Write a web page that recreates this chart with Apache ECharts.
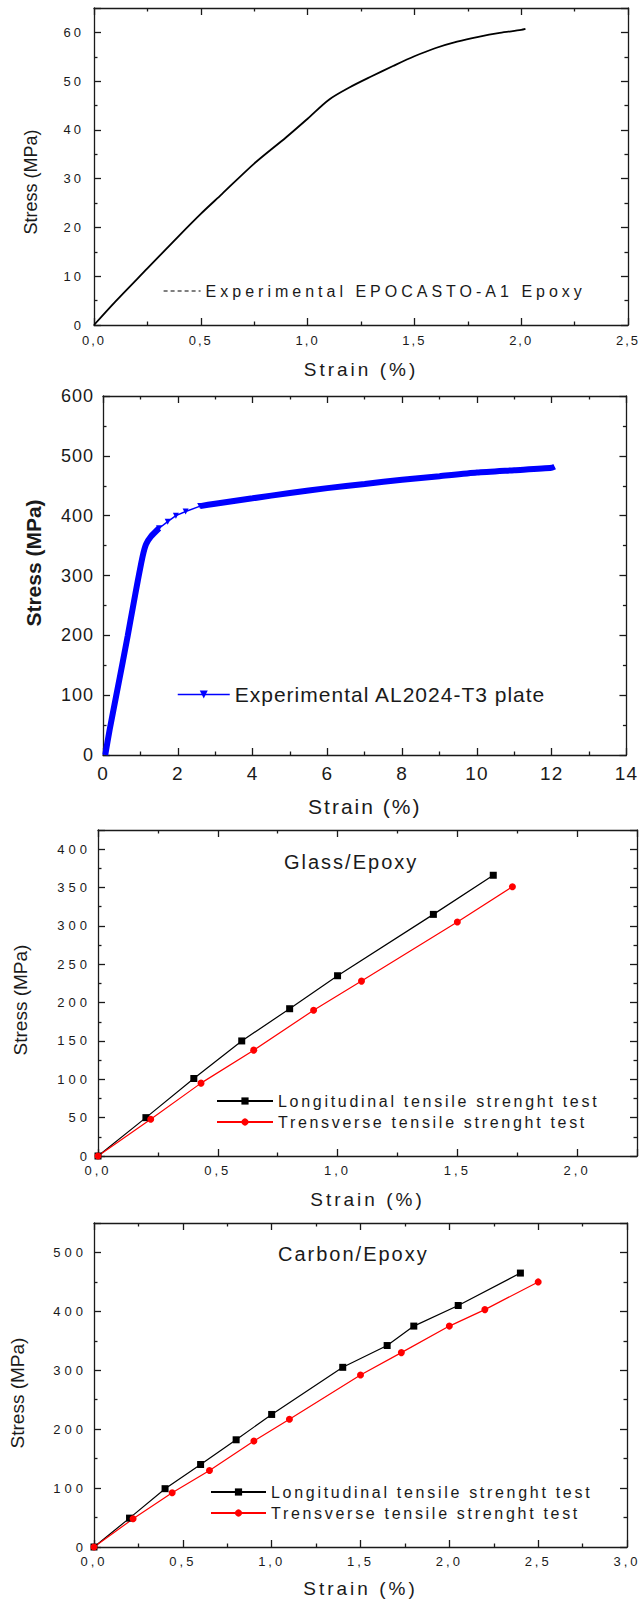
<!DOCTYPE html>
<html>
<head>
<meta charset="utf-8">
<title>Stress-strain curves</title>
<script src="https://cdn.jsdelivr.net/npm/echarts@6/dist/echarts.min.js"></script>
<style>
  html, body { margin: 0; padding: 0; background: #fff; }
  #chart { width: 640px; height: 1601px; }
  /* the plots use spaced-out lettering; the spacing is tagged through a dummy font name */
  #chart text[style*="sp1px"] { letter-spacing: 1px; }
  #chart text[style*="sp2px"] { letter-spacing: 2px; }
  #chart text[style*="sp27"] { letter-spacing: 2.7px; }
  #chart text[style*="sp3px"] { letter-spacing: 3px; }
  #chart text[style*="sp4px"] { letter-spacing: 4px; }
</style>
</head>
<body>
<div id="chart"></div>
<script>
// panel 1 - epoxy
const epoxyStrain = [0, 0.1, 0.25, 0.4, 0.5, 0.6, 0.75, 0.9, 1.0, 1.1, 1.2, 1.3, 1.4, 1.5, 1.6, 1.7, 1.8, 1.9, 2.0, 2.02];
const epoxyStress = [0, 4.8, 11.6, 18.4, 22.8, 26.9, 33.1, 38.5, 42.3, 46.2, 48.8, 51.0, 53.1, 55.1, 56.8, 58.1, 59.1, 59.9, 60.5, 60.7];

// panel 2 - AL2024-T3
const alStrain = [0.06, 0.18, 0.35, 0.53, 0.66, 0.80, 0.93, 1.06, 1.15, 1.28, 1.50, 1.73, 1.95, 2.21, 2.60, 3.0, 4.0, 5.0, 6.0, 7.0, 8.0, 9.0, 10.0, 11.0, 12.0, 12.08];
const alStress = [0, 43, 98, 156, 199, 247, 291, 332, 352, 365, 379, 390, 400, 407, 416, 420, 429, 438, 446, 453, 460, 466, 472, 476, 480, 482];

// panel 3 - glass/epoxy
const glassLongStrain = [0, 0.2, 0.4, 0.6, 0.8, 1.0, 1.4, 1.65];
const glassLongStress = [0, 50, 101, 150, 192, 235, 315, 366];
const glassTransStrain = [0, 0.22, 0.43, 0.65, 0.9, 1.1, 1.5, 1.73];
const glassTransStress = [0, 48, 95, 138, 190, 228, 305, 351];

// panel 4 - carbon/epoxy
const carbonLongStrain = [0, 0.2, 0.4, 0.6, 0.8, 1.0, 1.4, 1.65, 1.8, 2.05, 2.4];
const carbonLongStress = [0, 49, 99, 140, 182, 225, 305, 342, 375, 410, 465];
const carbonTransStrain = [0, 0.22, 0.44, 0.65, 0.9, 1.1, 1.5, 1.73, 2.0, 2.2, 2.5];
const carbonTransStress = [0, 48, 92, 130, 180, 217, 292, 330, 375, 403, 450];

const longName = 'Longitudinal tensile strenght test';
const transName = 'Trensverse tensile strenght test';
const epoxyName = 'Experimental EPOCASTO-A1 Epoxy';
const alName = 'Experimental AL2024-T3 plate';

const ink = '#1a1a1a';
const ff = sp => sp ? 'Liberation Sans, ' + sp : 'Liberation Sans';
const comma = v => v.toFixed(1).replace('.', ',');
const pairs = (xs, ys) => xs.map((x, i) => [x, ys[i]]);

function mkAxis(grid, pos, min, max, interval, label, name) {
  const ax = {
    type: 'value', gridIndex: grid, position: pos, min: min, max: max, interval: interval,
    splitLine: { show: false },
    axisLine: { onZero: false, lineStyle: { color: ink, width: 1.3 } },
    axisTick: { inside: true, length: 7, lineStyle: { color: ink, width: 1.3 } },
    minorTick: { show: true, splitNumber: 2, length: 3.5, lineStyle: { color: ink, width: 1.3 } },
    axisLabel: { show: false }
  };
  if (label) ax.axisLabel = Object.assign({ show: true, color: ink }, label);
  if (name) Object.assign(ax, name);
  return ax;
}

function xName(gap, size, sp) {
  return { name: 'Strain (%)', nameLocation: 'middle', nameGap: gap,
    nameTextStyle: { color: ink, fontSize: size, fontFamily: ff(sp) } };
}
function yName(gap, size, pad, bold) {
  return { name: 'Stress (MPa)', nameLocation: 'middle', nameGap: gap,
    nameTextStyle: { color: ink, fontSize: size, fontFamily: ff(), fontWeight: bold ? 'bold' : 'normal', padding: pad } };
}

const xAxes = [
  mkAxis(0, 'bottom', 0, 2.5, 0.5, { fontSize: 13, fontFamily: ff('sp2px'), margin: 9, formatter: comma }, xName(35, 19, 'sp3px')),
  mkAxis(0, 'top', 0, 2.5, 0.5),
  mkAxis(1, 'bottom', 0, 14, 2, { fontSize: 19, fontFamily: ff('sp1px'), margin: 9 }, xName(41, 21, 'sp2px')),
  mkAxis(1, 'top', 0, 14, 2),
  mkAxis(2, 'bottom', 0, 2.25, 0.5, { fontSize: 13, fontFamily: ff('sp3px'), margin: 8, formatter: comma, showMaxLabel: false }, xName(34, 19, 'sp3px')),
  mkAxis(2, 'top', 0, 2.25, 0.5),
  mkAxis(3, 'bottom', 0, 3, 0.5, { fontSize: 13, fontFamily: ff('sp3px'), margin: 8, formatter: comma }, xName(32, 19, 'sp3px')),
  mkAxis(3, 'top', 0, 3, 0.5)
];
const yAxes = [
  mkAxis(0, 'left', 0, 65, 10, { fontSize: 13, fontFamily: ff('sp3px'), margin: 10, showMaxLabel: false }, yName(54, 18, [0, 31, 0, 0])),
  mkAxis(0, 'right', 0, 65, 10),
  mkAxis(1, 'left', 0, 600, 100, { fontSize: 18, fontFamily: ff('sp1px'), margin: 9 }, yName(59, 21, [0, 0, 0, 25], true)),
  mkAxis(1, 'right', 0, 600, 100),
  mkAxis(2, 'left', 0, 425, 50, { fontSize: 13, fontFamily: ff('sp4px'), margin: 7, showMaxLabel: false }, yName(68, 19, [0, 14, 0, 0])),
  mkAxis(2, 'right', 0, 425, 50),
  mkAxis(3, 'left', 0, 550, 100, { fontSize: 13, fontFamily: ff('sp4px'), margin: 7, showMaxLabel: false }, yName(67, 19, [0, 16, 0, 0])),
  mkAxis(3, 'right', 0, 550, 100)
];

// aluminium curve: the dense noisy record reads as a thick band, except the short thin stretch around the knee
const alThick = [], alThin = [];
alStrain.forEach((x, i) => {
  if (x <= 1.5 || x >= 2.6) alThick.push([x, alStress[i]]);
  if (x >= 1.5 && x <= 2.6) alThin.push([x, alStress[i]]);
  if (x === 1.5) alThick.push(['-', '-']);
});
const downTri = 'path://M0,0L10,0L5,10Z';

const series = [
  { type: 'line', name: epoxyName, xAxisIndex: 0, yAxisIndex: 0, data: pairs(epoxyStrain, epoxyStress),
    symbol: 'none', smooth: 0.3, lineStyle: { color: '#000', width: 1.8 }, itemStyle: { color: '#000' } },
  { type: 'line', name: alName, xAxisIndex: 2, yAxisIndex: 2, data: alThick,
    symbol: downTri, symbolSize: 7, showSymbol: false, smooth: 0.2,
    lineStyle: { color: '#0000ff', width: 6 }, itemStyle: { color: '#0000ff' } },
  { type: 'line', name: alName, xAxisIndex: 2, yAxisIndex: 2, data: alThin,
    symbol: downTri, symbolSize: 6, lineStyle: { color: '#0000ff', width: 1.5 }, itemStyle: { color: '#0000ff' } },
  { type: 'line', name: longName, xAxisIndex: 4, yAxisIndex: 4, data: pairs(glassLongStrain, glassLongStress),
    symbol: 'rect', symbolSize: 7, lineStyle: { color: '#000', width: 1.2 }, itemStyle: { color: '#000' } },
  { type: 'line', name: transName, xAxisIndex: 4, yAxisIndex: 4, data: pairs(glassTransStrain, glassTransStress),
    symbol: 'circle', symbolSize: 7, lineStyle: { color: '#ff0000', width: 1.2 }, itemStyle: { color: '#ff0000' } },
  { type: 'line', name: longName, xAxisIndex: 6, yAxisIndex: 6, data: pairs(carbonLongStrain, carbonLongStress),
    symbol: 'rect', symbolSize: 7, lineStyle: { color: '#000', width: 1.2 }, itemStyle: { color: '#000' } },
  { type: 'line', name: transName, xAxisIndex: 6, yAxisIndex: 6, data: pairs(carbonTransStrain, carbonTransStress),
    symbol: 'circle', symbolSize: 7, lineStyle: { color: '#ff0000', width: 1.2 }, itemStyle: { color: '#ff0000' } }
];

const legendText = (size, sp) => ({ color: ink, fontSize: size, fontFamily: ff(sp) });

const chart = echarts.init(document.getElementById('chart'), null, { renderer: 'svg' });
chart.setOption({
  animation: false,
  backgroundColor: '#fff',
  title: [
    { text: 'Glass/Epoxy', left: 284, top: 852, padding: 0,
      textStyle: { color: ink, fontSize: 20, fontWeight: 'normal', fontFamily: ff('sp2px') } },
    { text: 'Carbon/Epoxy', left: 278, top: 1244, padding: 0,
      textStyle: { color: ink, fontSize: 20, fontWeight: 'normal', fontFamily: ff('sp2px') } }
  ],
  grid: [
    { left: 94, top: 8, width: 534, height: 317 },
    { left: 103, top: 396, width: 525, height: 359 },
    { left: 98, top: 830, width: 539, height: 326 },
    { left: 93, top: 1223, width: 534, height: 324 }
  ],
  legend: [
    { data: [epoxyName], left: 163, top: 283, padding: 0, itemWidth: 37, itemHeight: 2,
      lineStyle: { type: [4, 3], width: 1.2 }, itemStyle: { opacity: 0 }, textStyle: legendText(16, 'sp4px') },
    { data: [alName], left: 177, top: 684, padding: 0, itemWidth: 52, itemHeight: 10,
      lineStyle: { width: 1.5 }, textStyle: legendText(21, 'sp1px') },
    { data: [longName, transName], orient: 'vertical', left: 216, top: 1093, padding: 0, itemGap: 5,
      itemWidth: 56, itemHeight: 9, textStyle: legendText(16, 'sp27') },
    { data: [longName, transName], orient: 'vertical', left: 210, top: 1484, padding: 0, itemGap: 5,
      itemWidth: 55, itemHeight: 9, textStyle: legendText(16, 'sp27') }
  ],
  xAxis: xAxes,
  yAxis: yAxes,
  series: series
});
</script>
</body>
</html>
